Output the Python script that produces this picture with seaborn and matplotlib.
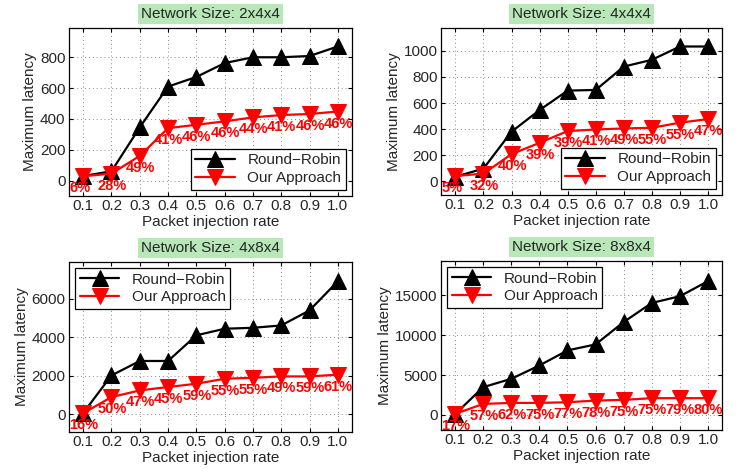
import matplotlib
matplotlib.use("Agg")
import matplotlib.pyplot as plt
import seaborn as sns

# ── data ────────────────────────────────────────
rates = [0.1, 0.2, 0.3, 0.4, 0.5, 0.6, 0.7, 0.8, 0.9, 1.0]
rate_labels = ["0.1", "0.2", "0.3", "0.4", "0.5", "0.6", "0.7", "0.8", "0.9", "1.0"]

titles = ["Network Size: 2x4x4", "Network Size: 4x4x4",
          "Network Size: 4x8x4", "Network Size: 8x8x4"]

rr_244 = [30, 60, 345, 610, 672, 762, 800, 800, 808, 870]
ours_244 = [28, 45, 160, 340, 362, 384, 410, 425, 432, 448]
pct_244 = [6, 28, 49, 41, 46, 46, 44, 41, 46, 46]

rr_444 = [35, 97, 380, 546, 695, 700, 879, 931, 1033, 1033]
ours_444 = [40, 59, 208, 295, 385, 397, 405, 410, 449, 477]
pct_444 = [5, 32, 40, 39, 39, 41, 49, 55, 55, 47]

rr_484 = [70, 2020, 2770, 2770, 4100, 4440, 4490, 4610, 5390, 6900]
ours_484 = [60, 900, 1245, 1420, 1590, 1850, 1900, 1970, 1970, 2060]
pct_484 = [16, 50, 47, 45, 59, 55, 55, 49, 59, 61]

rr_884 = [100, 3480, 4530, 6200, 8090, 8840, 11650, 14040, 14880, 16770]
ours_884 = [126, 1380, 1510, 1510, 1590, 1800, 1890, 2100, 2100, 2100]
pct_884 = [17, 57, 62, 75, 77, 78, 75, 75, 79, 80]

panels = [
    (rr_244, ours_244, pct_244, (-100, 990), [0, 200, 400, 600, 800], "lower right"),
    (rr_444, ours_444, pct_444, (-105, 1175), [0, 200, 400, 600, 800, 1000], "lower right"),
    (rr_484, ours_484, pct_484, (-910, 7900), [0, 2000, 4000, 6000], "upper left"),
    (rr_884, ours_884, pct_884, (-1890, 19300), [0, 5000, 10000, 15000], "upper left"),
]

positions = [
    [0.0925, 0.5865, 0.3793, 0.3545],
    [0.5916, 0.5886, 0.3763, 0.3524],
    [0.0925, 0.0886, 0.3793, 0.3587],
    [0.5912, 0.0928, 0.3767, 0.3566],
]

sns.set_style("ticks")
plt.rcParams["font.family"] = ["Liberation Sans", "DejaVu Sans"]
plt.rcParams["font.size"] = 11


def draw_panel(ax, title, rr, ours, pct, ylim, yticks, legend_loc):
    sns.lineplot(x=rates, y=rr, ax=ax, color="black", lw=1.6, marker="^",
                 markersize=11, markeredgecolor="black", label="Round\u2212Robin")
    sns.lineplot(x=rates, y=ours, ax=ax, color="red", lw=1.6, marker="v",
                 markersize=11, markeredgecolor="red", label="Our Approach")
    for x, y, p in zip(rates, ours, pct):
        ax.annotate(f"{p}%", xy=(x - 0.05, y), xytext=(0, -12),
                    textcoords="offset pixels", ha="left", va="center",
                    color="red", fontweight="bold", fontsize=10.5)
    ax.set_xlim(0.05, 1.05)
    ax.set_ylim(*ylim)
    ax.set_xticks(rates)
    ax.set_xticklabels(rate_labels)
    ax.set_yticks(yticks)
    ax.grid(True, linestyle=(0, (1, 3)), color="#888888", lw=0.7)
    ax.tick_params(direction="in", top=True, right=True, length=3, pad=2.5,
                   labelsize=11, color="black")
    for s in ax.spines.values():
        s.set_color("black")
        s.set_linewidth(0.9)
    ax.set_xlabel("Packet injection rate", fontsize=11, labelpad=1)
    ax.set_ylabel("Maximum latency", fontsize=11, labelpad=2)
    ax.set_title(title, fontsize=11, pad=7,
                 bbox=dict(facecolor="#b8e8b8", edgecolor="none", pad=2.2))
    leg = ax.legend(loc=legend_loc, fontsize=11, frameon=True, fancybox=False,
                    handlelength=2.6, borderpad=0.3, labelspacing=0.25,
                    borderaxespad=0.4)
    leg.get_frame().set_edgecolor("black")
    leg.get_frame().set_linewidth(0.9)
    leg.get_frame().set_alpha(1)


fig = plt.figure(figsize=(7.46, 4.74), dpi=100)
for pos, title, (rr, ours, pct, ylim, yticks, loc) in zip(positions, titles, panels):
    ax = fig.add_axes(pos)
    draw_panel(ax, title, rr, ours, pct, ylim, yticks, loc)

fig.savefig("out.png", dpi=100)
